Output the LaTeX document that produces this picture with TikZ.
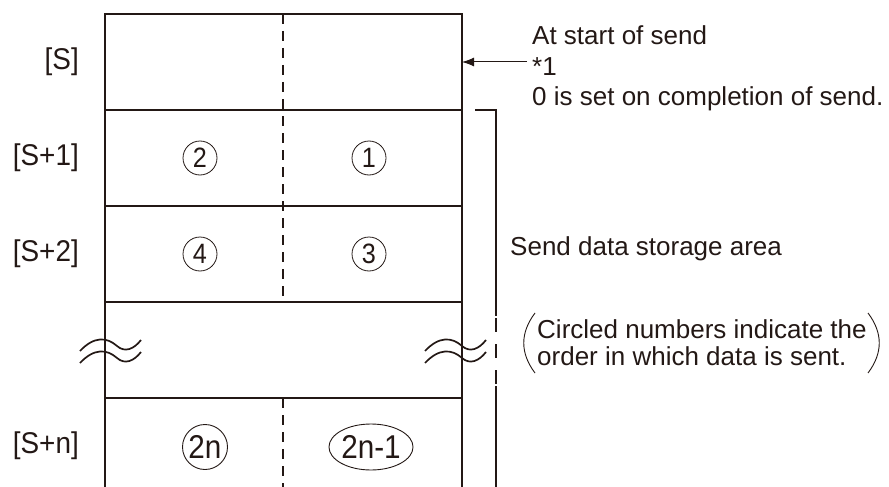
\documentclass[tikz,border=0pt]{standalone}
\usepackage{fontspec}
\setmainfont{Liberation Sans}
\newfontfamily\narrowfont[FakeStretch=0.9]{Liberation Sans}
\newfontfamily\lblfont[FakeStretch=0.93]{Liberation Sans}
\usetikzlibrary{arrows.meta,shapes.geometric}
\definecolor{ink}{RGB}{35,24,21}
\begin{document}
\begin{tikzpicture}[x=1pt,y=-1pt,
  frame/.style={line width=1.4pt, draw=ink},
  divider/.style={line width=1.3pt, draw=ink, dash pattern=on 10pt off 7pt},
  bracketline/.style={line width=2pt, draw=ink},
  wave/.style={line width=1.7pt, draw=ink},
  paren/.style={line width=0.9pt, draw=ink},
  lbl/.style={font=\lblfont\fontsize{30}{32}\selectfont, text=ink, anchor=east, inner sep=0},
  note/.style={font=\fontsize{26}{30}\selectfont, text=ink, anchor=base west, inner sep=0},
  circnum/.style={draw=ink, line width=0.8pt, circle, minimum size=34, inner sep=0, font=\narrowfont\fontsize{28}{28}\selectfont, text=ink},
  ringnum/.style={draw=ink, line width=0.9pt, font=\narrowfont\fontsize{33}{33}\selectfont, text=ink, inner sep=0},
]
\useasboundingbox (0,0) rectangle (889,487);
% frame
\coordinate (TL) at (105,14);
\coordinate (TR) at (462,14);
\coordinate (BL) at (105,487);
\coordinate (BR) at (462,487);
\draw[frame] (BL) -- (TL) -- (TR) -- (BR);
\foreach \yy in {110,206,302,398} \draw[frame] (105,\yy) -- (462,\yy);
% centre divider
\draw[divider] (283,14) -- (283,302);
\draw[divider] (283,398) -- (283,487);
% row labels
\node[lbl] (s0) at (79,62) {[S]};
\node[lbl] (s1) at (79,158) {[S+1]};
\node[lbl] (s2) at (79,254) {[S+2]};
\node[lbl] (sn) at (79,446) {[S+n]};
% circled numbers
\node[circnum] (c2) at (200,158) {2};
\node[circnum] (c1) at (369,158) {1};
\node[circnum] (c4) at (200,254) {4};
\node[circnum] (c3) at (369,254) {3};
\node[ringnum, circle, minimum size=45] (c2n) at (205,447) {2n};
\node[ringnum, ellipse, minimum width=73, minimum height=46, inner sep=0] (c2n1) at (371,447) {2n-1};
% waves
\foreach \dx in {0,345}{
  \foreach \dy in {0,12}{
    \draw[wave] (80+\dx,351+\dy) .. controls (94+\dx,336+\dy) and (107+\dx,337+\dy) .. (117+\dx,346+\dy)
       .. controls (125+\dx,353+\dy) and (134+\dx,349+\dy) .. (141+\dx,340+\dy);
  }
}
% bracket
\draw[bracketline] (475,110) -- (496,110) -- (496,316);
\draw[bracketline, dash pattern=on 14pt off 12pt] (496,318) -- (496,386);
\draw[bracketline] (496,386) -- (496,487);
% right notes
\node[note] (t1) at (532,45) {At start of send};
\node[note] (star) at (532,75) {*1};
\node[note] (t3) at (532,106) {0 is set on completion of send.};
\coordinate (edge) at (462,62);
\draw[ink, line width=1pt, -{Latex[length=12pt,width=9pt]}] (527,62) -- (edge);
\node[note] (area) at (510,255) {Send data storage area};
\node[note] (p1) at (537,338) {Circled numbers indicate the};
\node[note] (p2) at (537,365) {order in which data is sent.};
\draw[paren] (535,313) .. controls (520,333) and (520,353) .. (535,373);
\draw[paren] (868,313) .. controls (883,333) and (883,353) .. (868,373);
\end{tikzpicture}
\end{document}
